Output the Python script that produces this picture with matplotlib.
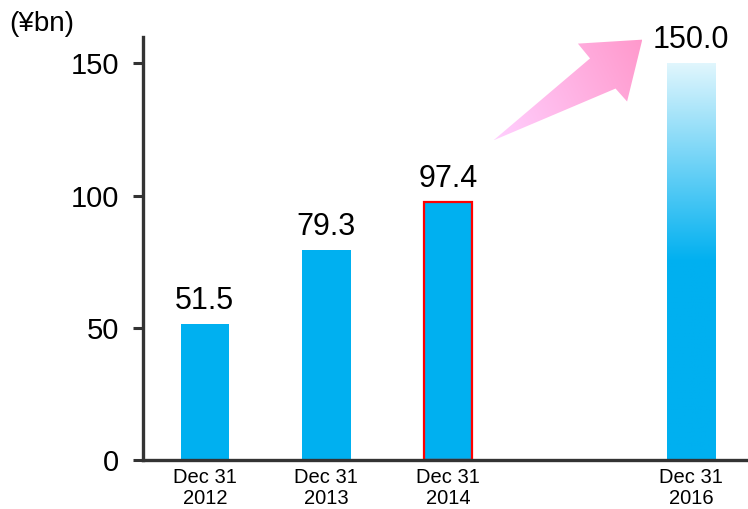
import matplotlib.pyplot as plt
import numpy as np
from matplotlib.colors import LinearSegmentedColormap
from matplotlib.patches import Polygon

plt.rcParams['font.family'] = ['Liberation Sans', 'DejaVu Sans']

# balance at each year end
years = ['Dec 31\n2012', 'Dec 31\n2013', 'Dec 31\n2014', 'Dec 31\n2016']
positions = [0, 1, 2, 4]
values = [51.5, 79.3, 97.4, 150.0]
yticks = [0, 50, 100, 150]

blue = '#00b0f0'

fig = plt.figure(figsize=(7.48, 5.09), dpi=100)
ax = fig.add_axes([0.191, 0.0963, 0.809, 0.831])

bars = ax.bar(positions, values, width=0.4, color=blue, zorder=2)
bars[2].set_edgecolor('#ff0000')
bars[2].set_linewidth(1.6)

# target bar: light at the top, fading into solid blue halfway down
last = bars[3]
last.set_facecolor('none')
grad = LinearSegmentedColormap.from_list('g', [(0, blue), (0.5, blue), (1, '#e0f6fd')])
x0 = last.get_x()
w = last.get_width()
img = ax.imshow(np.linspace(0, 1, 256).reshape(-1, 1), cmap=grad, origin='lower',
                extent=[x0, x0 + w, 0, values[3]], aspect='auto', zorder=2)
img.set_clip_path(last)

for p, v in zip(positions, values):
    ax.annotate(f'{v:.1f}', (p, v), xytext=(0, 6), textcoords='offset points',
                ha='center', va='bottom', fontsize=22)

# growth arrow from 2014 towards the 2016 target
arrow = [(2.375, 120.9), (3.17, 151.9), (3.07, 157.5), (3.60, 159.0),
         (3.475, 135.6), (3.38, 140.5)]
poly = Polygon(arrow, closed=True, facecolor='none', edgecolor='none')
ax.add_patch(poly)
pink = LinearSegmentedColormap.from_list('p', ['#ffd0ff', '#ff99cc'])
gx = np.linspace(0, 1, 256)
gy = np.linspace(0, 1, 64)
gxx, gyy = np.meshgrid(gx, gy)
pimg = ax.imshow(0.75 * gxx + 0.25 * gyy, cmap=pink, origin='lower',
                 extent=[2.375, 3.60, 120.9, 159.0], aspect='auto', zorder=3)
pimg.set_clip_path(poly)

ax.set_xlim(-0.51, 4.47)
ax.set_ylim(0, 160)
ax.set_yticks(yticks)
ax.set_xticks(positions)
ax.set_xticklabels(years, fontsize=14.5, linespacing=1.1)
ax.tick_params(axis='y', labelsize=21, length=7, width=2.2, color='#333333', pad=10)
ax.tick_params(axis='x', length=0, pad=6)

for s in ['top', 'right']:
    ax.spines[s].set_visible(False)
for s in ['left', 'bottom']:
    ax.spines[s].set_linewidth(2.4)
    ax.spines[s].set_color('#333333')

fig.text(0.013, 0.952, '(¥bn)', fontsize=20, va='center', ha='left')

fig.savefig('out.png', dpi=100)
